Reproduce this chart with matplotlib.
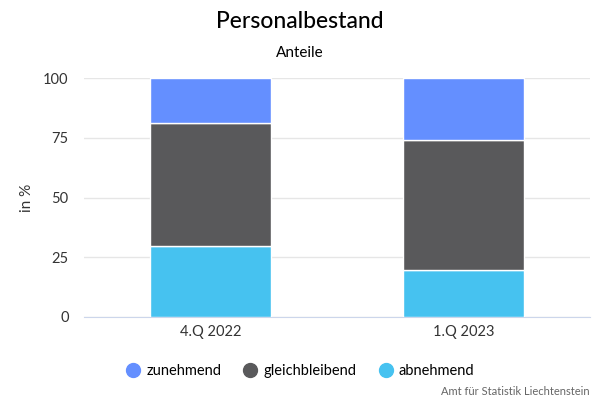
import matplotlib
matplotlib.use("Agg")
import matplotlib.pyplot as plt
from matplotlib.lines import Line2D
import numpy as np

plt.rcParams['font.family'] = ['Lato', 'DejaVu Sans']

categories = ["4.Q 2022", "1.Q 2023"]
abnehmend = [29.6, 19.5]
gleichbleibend = [51.4, 54.4]
zunehmend = [19.0, 26.1]

series = [("abnehmend", abnehmend, "#46c2f0"),
          ("gleichbleibend", gleichbleibend, "#59595b"),
          ("zunehmend", zunehmend, "#648fff")]

fig = plt.figure(figsize=(6, 4), dpi=100)
ax = fig.add_axes([0.14, 0.2075, 0.843, 0.5975])

x = np.arange(len(categories))
bottom = np.zeros(len(categories))
for name, vals, col in series:
    ax.bar(x, vals, bottom=bottom, width=0.48, color=col, edgecolor="white", linewidth=1, zorder=3)
    bottom += np.array(vals)

ax.set_xlim(-0.5, 1.5)
ax.set_ylim(0, 100)
ax.set_yticks([0, 25, 50, 75, 100])
ax.set_xticks(x)
ax.set_xticklabels(categories)
ax.grid(axis="y", color="#e6e6e6", linewidth=1, zorder=0)
for s in ["top", "right", "left"]:
    ax.spines[s].set_visible(False)
ax.spines["bottom"].set_color("#ccd6eb")
ax.tick_params(axis="y", length=0, labelsize=10.5, colors="#333333", pad=11)
ax.tick_params(axis="x", length=0, labelsize=10.5, colors="#333333", pad=6)
ax.set_ylabel("in %", fontsize=11, color="#333333", labelpad=7)

fig.text(0.5, 0.947, "Personalbestand", ha="center", va="center", fontsize=16.5, fontweight=500, color="#000000")
fig.text(0.5, 0.868, "Anteile", ha="center", va="center", fontsize=11, color="#000000")

handles = [Line2D([], [], marker="o", linestyle="", markersize=10, color=c, label=n)
           for n, _, c in reversed(series)]
fig.legend(handles=handles, loc="center", bbox_to_anchor=(0.5, 0.072), ncol=3, frameon=False,
           fontsize=10.5, handlelength=1.0, handletextpad=0.4, columnspacing=1.5)

fig.text(0.983, 0.022, "Amt für Statistik Liechtenstein", ha="right", va="center", fontsize=8, color="#666666")

fig.savefig("out.png", dpi=100)
